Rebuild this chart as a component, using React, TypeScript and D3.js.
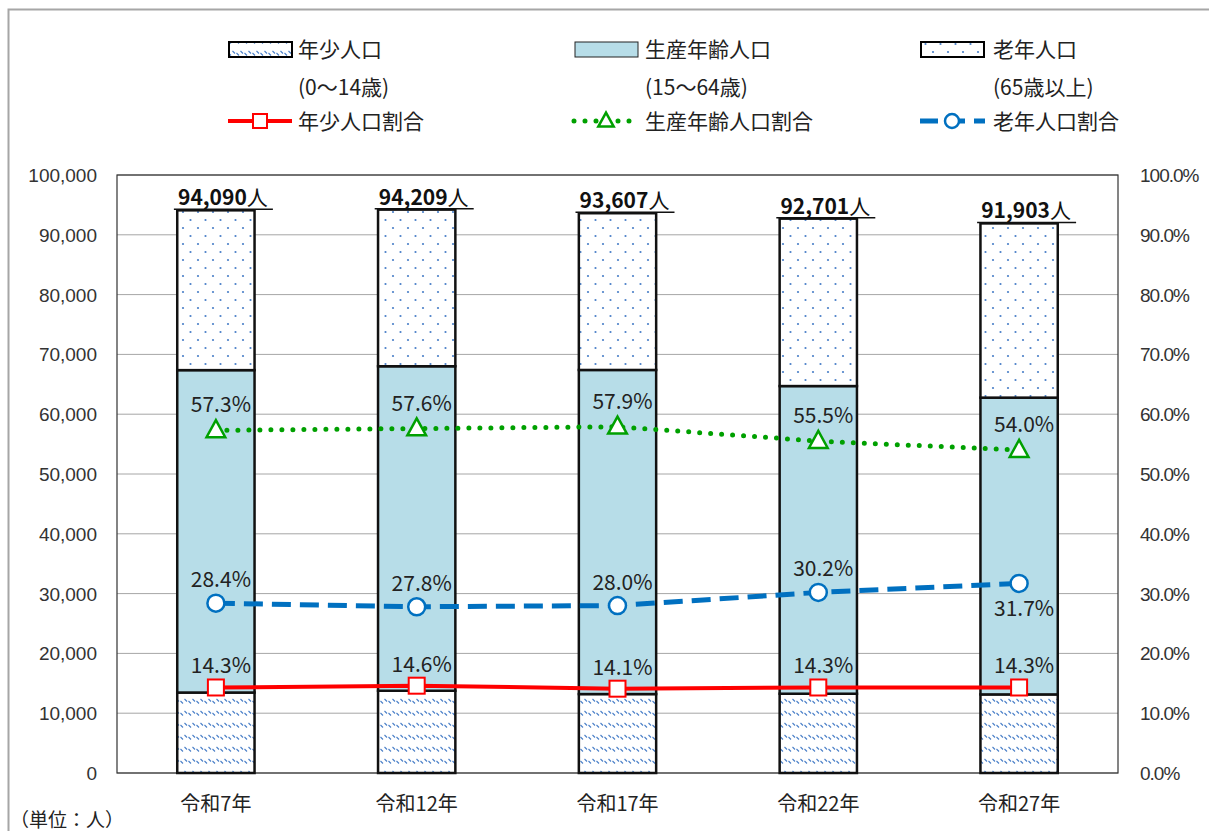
import * as d3 from "d3";

const categories = ["令和7年", "令和12年", "令和17年", "令和22年", "令和27年"];
const youth = [13455, 13754, 13199, 13256, 13142];
const working = [53914, 54264, 54198, 51449, 49628];
const elderly = [26721, 26191, 26210, 27996, 29133];
const totals = [94090, 94209, 93607, 92701, 91903];
const youthRate = [14.3, 14.6, 14.1, 14.3, 14.3];
const workingRate = [57.3, 57.6, 57.9, 55.5, 54.0];
const elderlyRate = [28.4, 27.8, 28.0, 30.2, 31.7];
const leftTicks = d3.range(0, 100001, 10000);
const rightTicks = d3.range(0, 101, 10);

const W = 1209;
const H = 831;
const plot = {left: 117, right: 1118, top: 175, bottom: 773};
const JP = "'Noto Sans CJK JP', 'Noto Sans', sans-serif";

const RED = "#ff0000";
const GREEN = "#00a000";
const BLUE = "#0070c0";
const LIGHT = "#b7dde8";

export default function App() {
    const x = d3.scaleBand<string>().domain(categories).range([plot.left, plot.right]).paddingInner(0.615).paddingOuter(0.3);
    const y = d3.scaleLinear().domain([0, 100000]).range([plot.bottom, plot.top]);
    const yr = d3.scaleLinear().domain([0, 100]).range([plot.bottom, plot.top]);
    const cx = (c: string) => (x(c) ?? 0) + x.bandwidth() / 2;

    const line = d3.line<number>()
        .x((_, i) => cx(categories[i]))
        .y(d => yr(d));

    const fmt = d3.format(",");

    const stacks = categories.map((c, i) => [
        {y0: 0, y1: youth[i], fill: "url(#youthPat)"},
        {y0: youth[i], y1: youth[i] + working[i], fill: LIGHT},
        {y0: youth[i] + working[i], y1: youth[i] + working[i] + elderly[i], fill: "url(#oldPat)"},
    ]);

    const tri = (px: number, py: number, s: number) =>
        `M${px},${py - s * 0.6} L${px + s * 0.55},${py + s * 0.4} L${px - s * 0.55},${py + s * 0.4} Z`;

    return (
        <svg width={W} height={H} style={{position: "absolute", left: 0, top: 0, background: "#fff"}}>
            <defs>
                <pattern id="youthPat" width={8} height={12} patternUnits="userSpaceOnUse">
                    <rect width={8} height={12} fill="#fff"/>
                    <path d="M0.5,3 L3,5.5 M4.5,5 L7,7.5" stroke="#4a7fc8" strokeWidth={1.1}/>
                </pattern>
                <pattern id="oldPat" width={15} height={16} patternUnits="userSpaceOnUse">
                    <rect width={15} height={16} fill="#fff"/>
                    <circle cx={3} cy={4} r={1.1} fill="#4a7fc8"/>
                    <circle cx={10.5} cy={12} r={1.1} fill="#4a7fc8"/>
                </pattern>
            </defs>

            {/* outer frame */}
            <rect x={8.5} y={9.5} width={W + 10} height={H + 10} fill="none" stroke="#a6a6a6" strokeWidth={2}/>

            {/* legend */}
            <g fontFamily={JP} fontSize={21} fill="#222">
                <rect x={229} y={42} width={63} height={15} fill="url(#youthPat)" stroke="#000" strokeWidth={2}/>
                <text x={298} y={57}>年少人口</text>
                <text x={298} y={95}>(0〜14歳)</text>
                <rect x={575} y={42} width={63} height={15} fill={LIGHT} stroke="#222" strokeWidth={1}/>
                <text x={645} y={57}>生産年齢人口</text>
                <text x={645} y={95}>(15〜64歳)</text>
                <rect x={921} y={42} width={63} height={15} fill="url(#oldPat)" stroke="#000" strokeWidth={2}/>
                <text x={993} y={57}>老年人口</text>
                <text x={993} y={95}>(65歳以上)</text>

                <line x1={228} x2={292} y1={121} y2={121} stroke={RED} strokeWidth={4}/>
                <rect x={253} y={114} width={14} height={14} fill="#fff" stroke={RED} strokeWidth={2}/>
                <text x={298} y={129}>年少人口割合</text>

                <line x1={574} x2={638} y1={121} y2={121} stroke={GREEN} strokeWidth={5} strokeDasharray="0 11" strokeLinecap="round"/>
                <path d={tri(606, 121, 14)} fill="#fff" stroke={GREEN} strokeWidth={2.5}/>
                <text x={645} y={129}>生産年齢人口割合</text>

                <line x1={920} x2={985} y1={121} y2={121} stroke={BLUE} strokeWidth={5} strokeDasharray="18 9"/>
                <circle cx={952} cy={121} r={7} fill="#fff" stroke={BLUE} strokeWidth={2.5}/>
                <text x={993} y={129}>老年人口割合</text>
            </g>

            {/* grid */}
            {leftTicks.map(t => (
                <line key={t} x1={plot.left} x2={plot.right} y1={y(t)} y2={y(t)} stroke="#a6a6a6" strokeWidth={1}/>
            ))}
            <rect x={plot.left} y={plot.top} width={plot.right - plot.left} height={plot.bottom - plot.top} fill="none" stroke="#333" strokeWidth={1.2}/>

            {/* axes labels */}
            <g fontFamily="'Liberation Sans', Arial, sans-serif" fontSize={19} fill="#333">
                {leftTicks.map(t => (
                    <text key={t} x={97} y={y(t) + 7} textAnchor="end">{fmt(t)}</text>
                ))}
                {rightTicks.map(t => (
                    <text key={t} x={1140} y={yr(t) + 7} textAnchor="start" letterSpacing={-1}>{t.toFixed(1)}%</text>
                ))}
            </g>
            <g fontFamily={JP} fontSize={20} fill="#222">
                {categories.map(c => (
                    <text key={c} x={cx(c)} y={811} textAnchor="middle">{c}</text>
                ))}
                <text x={10} y={827} fontSize={19}>（単位：人）</text>
            </g>

            {/* bars */}
            {categories.map((c, i) => (
                <g key={c}>
                    {stacks[i].map((s, j) => (
                        <rect key={j} x={x(c)} y={y(s.y1)} width={x.bandwidth()} height={y(s.y0) - y(s.y1)} fill={s.fill}
                              stroke="#111" strokeWidth={2.5}/>
                    ))}
                </g>
            ))}

            {/* totals */}
            <g fontFamily={JP} fontSize={21} fill="#111">
                {categories.map((c, i) => (
                    <g key={c}>
                        <text x={cx(c) + 7} y={y(totals[i]) - 5} textAnchor="middle">
                            <tspan fontWeight="bold">{fmt(totals[i])}</tspan>
                            <tspan>人</tspan>
                        </text>
                        <line x1={cx(c) - 42} x2={cx(c) + 57} y1={y(totals[i]) - 1} y2={y(totals[i]) - 1} stroke="#111" strokeWidth={1.5}/>
                    </g>
                ))}
            </g>

            {/* rate lines */}
            <path d={line(youthRate) ?? ""} fill="none" stroke={RED} strokeWidth={4}/>
            <path d={line(workingRate) ?? ""} fill="none" stroke={GREEN} strokeWidth={5} strokeDasharray="0 11" strokeLinecap="round"/>
            <path d={line(elderlyRate) ?? ""} fill="none" stroke={BLUE} strokeWidth={5} strokeDasharray="19 9"/>

            {categories.map((c, i) => (
                <g key={c}>
                    <rect x={cx(c) - 8} y={yr(youthRate[i]) - 8} width={16} height={16} fill="#fff" stroke={RED} strokeWidth={2}/>
                    <path d={tri(cx(c), yr(workingRate[i]), 17)} fill="#fff" stroke={GREEN} strokeWidth={2.5}/>
                    <circle cx={cx(c)} cy={yr(elderlyRate[i])} r={8.5} fill="#fff" stroke={BLUE} strokeWidth={2.5}/>
                </g>
            ))}

            {/* rate labels */}
            <g fontFamily={JP} fontSize={21} fill="#222" textAnchor="middle">
                {categories.map((c, i) => (
                    <g key={c}>
                        <text x={cx(c) + 5} y={yr(youthRate[i]) - 14}>{youthRate[i].toFixed(1)}%</text>
                        <text x={cx(c) + 5} y={yr(workingRate[i]) - 18}>{workingRate[i].toFixed(1)}%</text>
                        <text x={cx(c) + 5} y={i === categories.length - 1 ? yr(elderlyRate[i]) + 33 : yr(elderlyRate[i]) - 16}>{elderlyRate[i].toFixed(1)}%</text>
                    </g>
                ))}
            </g>
        </svg>
    );
}
